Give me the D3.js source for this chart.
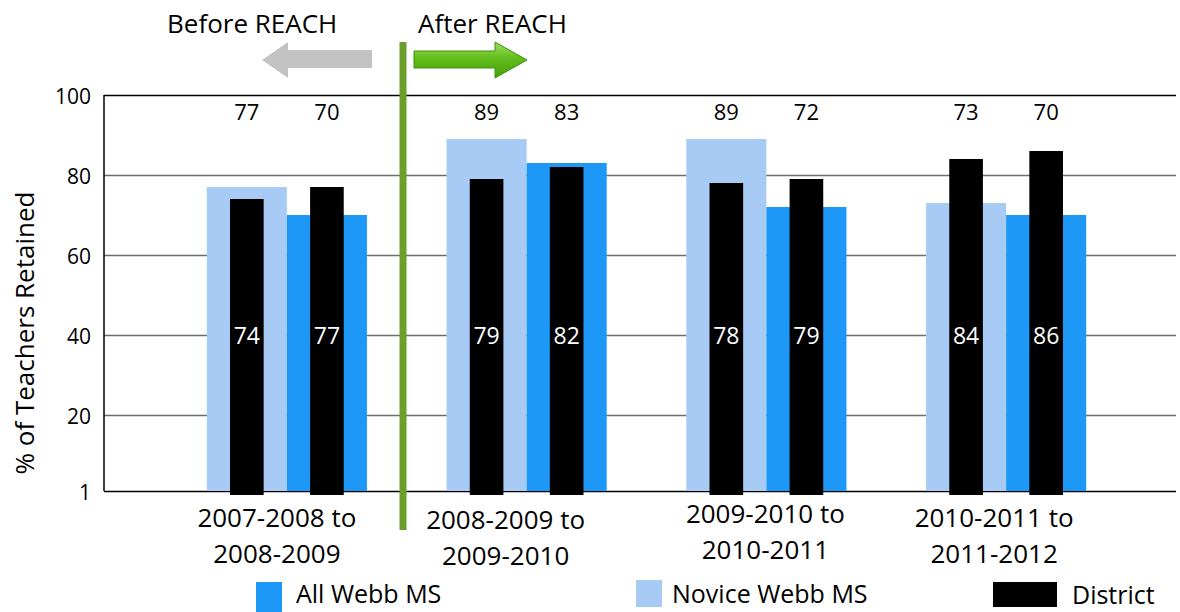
<!DOCTYPE html>
<html>
<head>
<meta charset="utf-8">
<script src="https://cdn.jsdelivr.net/npm/d3@7"></script>
<style>
  body { margin: 0; background: #fff; }
  svg { display: block; font-family: "Open Sans", "DejaVu Sans", sans-serif; }
</style>
</head>
<body>
<div id="chart"></div>
<script>
// Chart data
const categories = ["2007-2008 to 2008-2009", "2008-2009 to 2009-2010", "2009-2010 to 2010-2011", "2010-2011 to 2011-2012"];
const categoryLines = [["2007-2008 to", "2008-2009"], ["2008-2009 to", "2009-2010"], ["2009-2010 to", "2010-2011"], ["2010-2011 to", "2011-2012"]];
const noviceWebb = [77, 89, 89, 73];
const allWebb = [70, 83, 72, 70];
const districtNovice = [74, 79, 78, 84]; // district bar drawn over the novice bar
const districtAll = [77, 82, 79, 86];    // district bar drawn over the all-staff bar
const yTicks = [1, 20, 40, 60, 80, 100];
const seriesNames = ["All Webb MS", "Novice Webb MS", "District"];

const colors = { all: "#1e98f7", novice: "#a8cbf5", district: "#000000" };

// 1. Canvas
const W = 1180, H = 612;
const plot = { left: 104, right: 1176, top: 95, bottom: 491 };

const svg = d3.select("#chart")
    .append("svg")
    .attr("width", W)
    .attr("height", H);

// 2. Scales
const y = d3.scaleLinear()
    .domain([1, 100])
    .range([plot.bottom, plot.top]);

const x = d3.scaleBand()
    .domain(categories)
    .range([167, 1126])
    .paddingInner(0.332)
    .paddingOuter(0.166);

const xs = d3.scaleBand()
    .domain(["novice", "all"])
    .range([0, x.bandwidth()]);

// 3. Grid + y axis
const yAxis = svg.append("g")
    .attr("transform", `translate(${plot.left},0)`)
    .call(d3.axisLeft(y)
        .tickValues(yTicks)
        .tickSize(-(plot.right - plot.left))
        .tickPadding(13));

yAxis.select(".domain").remove();
yAxis.selectAll(".tick line")
    .attr("stroke", d => d === 1 || d === 100 ? "#000" : "#6e6e6e")
    .attr("stroke-width", 1.5);
yAxis.selectAll(".tick text")
    .attr("dy", null)
    .attr("y", 8)
    .attr("fill", "#000")
    .style("font-size", "21px")
    .style("font-family", "'Open Sans', sans-serif");

svg.append("line")
    .attr("x1", plot.left).attr("x2", plot.left)
    .attr("y1", plot.top).attr("y2", plot.bottom)
    .attr("stroke", "#000")
    .attr("stroke-width", 1.5);

svg.append("text")
    .attr("transform", `translate(34,${(plot.top + plot.bottom) / 2 + 40}) rotate(-90)`)
    .attr("text-anchor", "middle")
    .style("font-size", "26px")
    .text("% of Teachers Retained");

// 4. Bars
const rows = categories.map((c, i) => ({
    cat: c,
    novice: noviceWebb[i],
    all: allWebb[i],
    dNovice: districtNovice[i],
    dAll: districtAll[i]
}));

const groups = svg.append("g")
    .selectAll("g")
    .data(rows)
    .join("g")
    .attr("transform", d => `translate(${x(d.cat)},0)`);

["novice", "all"].forEach(key => {
    groups.append("rect")
        .attr("x", xs(key))
        .attr("y", d => y(d[key]))
        .attr("width", xs.bandwidth())
        .attr("height", d => y(1) - y(d[key]))
        .attr("fill", colors[key]);
});

const dw = xs.bandwidth() * 0.42;
[["novice", "dNovice"], ["all", "dAll"]].forEach(([key, dkey]) => {
    groups.append("rect")
        .attr("x", xs(key) + (xs.bandwidth() - dw) / 2)
        .attr("y", d => y(d[dkey]))
        .attr("width", dw)
        .attr("height", d => y(0) - y(d[dkey]))
        .attr("fill", colors.district);

    // district value inside the black bar
    groups.append("text")
        .attr("x", xs(key) + xs.bandwidth() / 2)
        .attr("y", 344)
        .attr("text-anchor", "middle")
        .attr("fill", "#fff")
        .style("font-size", "23px")
        .text(d => d[dkey]);

    // novice / all value above the plot
    groups.append("text")
        .attr("x", xs(key) + xs.bandwidth() / 2)
        .attr("y", 120)
        .attr("text-anchor", "middle")
        .attr("fill", "#000")
        .style("font-size", "22px")
        .text(d => d[key]);
});

// 5. Category labels (two lines, nudged like the original)
const labelDx = [-10, -21, -1, -12];
const labelDy = [0, 2, -4, 0];
svg.append("g")
    .selectAll("text")
    .data(categories)
    .join("text")
    .attr("text-anchor", "middle")
    .attr("transform", (d, i) => `translate(${x(d) + x.bandwidth() / 2 + labelDx[i]},${527 + labelDy[i]})`)
    .style("font-size", "26px")
    .selectAll("tspan")
    .data((d, i) => categoryLines[i])
    .join("tspan")
    .attr("x", 0)
    .attr("dy", (d, j) => j === 0 ? 0 : 36)
    .text(d => d);

// 6. Before / after marker
const defs = svg.append("defs");
const grad = defs.append("linearGradient")
    .attr("id", "greenArrow")
    .attr("x1", 0).attr("y1", 0).attr("x2", 0).attr("y2", 1);
grad.append("stop").attr("offset", "0%").attr("stop-color", "#9ede62");
grad.append("stop").attr("offset", "45%").attr("stop-color", "#62bd1c");
grad.append("stop").attr("offset", "100%").attr("stop-color", "#44a00a");

svg.append("polygon")
    .attr("points", "372,50 288,50 288,42 262,60 288,78 288,68 372,68")
    .attr("fill", "#c3c3c3");

svg.append("polygon")
    .attr("points", "414,51 495,51 495,42 527,60 495,78 495,68 414,68")
    .attr("fill", "url(#greenArrow)")
    .attr("stroke", "#3d930a")
    .attr("stroke-width", 1);

svg.append("line")
    .attr("x1", 403).attr("x2", 403)
    .attr("y1", 42).attr("y2", 530)
    .attr("stroke", "#6b9e2b")
    .attr("stroke-width", 7);

svg.append("text")
    .attr("x", 167).attr("y", 33)
    .style("font-size", "26px")
    .text("Before REACH");

svg.append("text")
    .attr("x", 418).attr("y", 33)
    .style("font-size", "26px")
    .text("After REACH");

// 7. Legend
const legendLayout = [
    { sx: 256, sy: 582, sw: 26, sh: 30, tx: 296, ty: 603, color: colors.all },
    { sx: 636, sy: 580, sw: 26, sh: 27, tx: 672, ty: 603, color: colors.novice },
    { sx: 993, sy: 582, sw: 64, sh: 25, tx: 1072, ty: 604, color: colors.district }
];

const legend = svg.append("g")
    .selectAll("g")
    .data(seriesNames)
    .join("g");

legend.append("rect")
    .attr("x", (d, i) => legendLayout[i].sx)
    .attr("y", (d, i) => legendLayout[i].sy)
    .attr("width", (d, i) => legendLayout[i].sw)
    .attr("height", (d, i) => legendLayout[i].sh)
    .attr("fill", (d, i) => legendLayout[i].color);

legend.append("text")
    .attr("x", (d, i) => legendLayout[i].tx)
    .attr("y", (d, i) => legendLayout[i].ty)
    .style("font-size", "25px")
    .text(d => d);
</script>
</body>
</html>
